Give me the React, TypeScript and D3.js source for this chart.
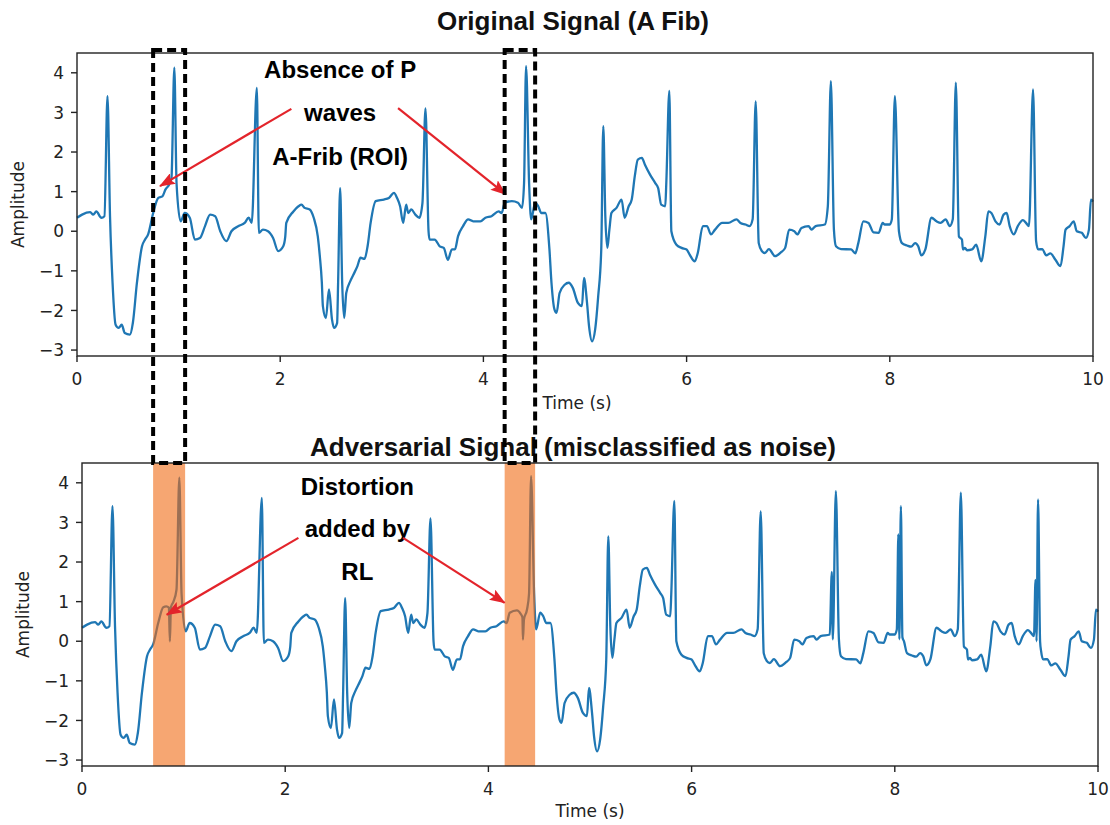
import React from 'react';
import * as d3 from 'd3';

// ECG trace (time in s, amplitude)
const originalSignal: [number, number][] = [
  [0.0, 0.34], [0.05, 0.42], [0.13, 0.48], [0.16, 0.42], [0.19, 0.5], [0.24, 0.34], [0.27, 0.38],
  [0.3, 3.41], [0.325, 0.38], [0.35, -1.3], [0.38, -2.36], [0.41, -2.44], [0.44, -2.36], [0.47, -2.57],
  [0.52, -2.61], [0.55, -2.31], [0.59, -1.3], [0.64, -0.38], [0.67, -0.21], [0.7, -0.08], [0.75, 0.46],
  [0.8, 0.84], [0.84, 0.88], [0.87, 1.05], [0.915, 1.22], [0.93, 1.35], [0.958, 4.13], [0.98, 1.2],
  [1.02, 0.25], [1.06, 0.46], [1.11, 0.34], [1.16, -0.21], [1.21, -0.17], [1.26, 0.13], [1.31, 0.42],
  [1.36, 0.38], [1.41, 0.0], [1.47, -0.25], [1.52, 0.0], [1.59, 0.13], [1.65, 0.21], [1.69, 0.34],
  [1.72, 0.21], [1.77, 3.62], [1.79, -0.04], [1.83, 0.04], [1.88, 0.0], [1.93, -0.17], [1.98, -0.5],
  [2.03, -0.38], [2.05, -0.13], [2.06, 0.21], [2.13, 0.5], [2.18, 0.63], [2.21, 0.67], [2.24, 0.59],
  [2.29, 0.55], [2.33, 0.34], [2.37, -0.13], [2.39, -0.63], [2.41, -1.3], [2.42, -1.89], [2.45, -2.19],
  [2.48, -1.47], [2.51, -2.23], [2.53, -2.44], [2.56, -2.32], [2.57, -1.3], [2.59, 1.09], [2.61, -1.3],
  [2.63, -2.19], [2.65, -1.56], [2.69, -1.26], [2.72, -1.1], [2.76, -0.88], [2.79, -0.67], [2.83, -0.7],
  [2.86, -0.38], [2.89, 0.21], [2.94, 0.76], [3.02, 0.8], [3.07, 0.84], [3.12, 0.97], [3.15, 0.84],
  [3.18, 0.63], [3.21, 0.21], [3.24, 0.67], [3.26, 0.46], [3.29, 0.55], [3.33, 0.42], [3.37, 0.34],
  [3.4, 0.71], [3.43, 3.1], [3.46, 0.0], [3.47, -0.21], [3.52, -0.21], [3.57, -0.38], [3.61, -0.42],
  [3.65, -0.72], [3.69, -0.46], [3.72, -0.46], [3.75, -0.13], [3.8, 0.13], [3.85, 0.3], [3.9, 0.25],
  [3.97, 0.25], [4.02, 0.34], [4.08, 0.38], [4.15, 0.5], [4.18, 0.46], [4.21, 0.72], [4.28, 0.76],
  [4.34, 0.72], [4.38, 0.59], [4.4, 1.2], [4.42, 4.17], [4.45, 1.2], [4.47, 0.3], [4.51, 0.72],
  [4.54, 0.63], [4.57, 0.46], [4.61, 0.46], [4.65, -0.46], [4.67, -1.3], [4.7, -1.98], [4.72, -2.06],
  [4.75, -1.56], [4.8, -1.35], [4.84, -1.3], [4.88, -1.43], [4.93, -1.81], [4.97, -1.89], [4.99, -1.18],
  [5.02, -1.81], [5.04, -2.4], [5.07, -2.78], [5.1, -2.48], [5.13, -1.64], [5.16, -0.46], [5.18, 2.65],
  [5.2, 0.38], [5.22, -0.42], [5.24, 0.04], [5.26, 0.46], [5.31, 0.59], [5.36, 0.8], [5.39, 0.34],
  [5.43, 0.63], [5.46, 0.8], [5.49, 1.39], [5.52, 1.81], [5.56, 1.85], [5.59, 1.68], [5.64, 1.43],
  [5.69, 1.22], [5.72, 1.09], [5.75, 0.67], [5.79, 0.63], [5.8, 1.2], [5.83, 3.54], [5.85, 0.0],
  [5.9, -0.34], [5.95, -0.42], [6.0, -0.46], [6.03, -0.59], [6.08, -0.76], [6.11, -0.55], [6.16, 0.13],
  [6.2, 0.13], [6.24, -0.08], [6.28, 0.04], [6.35, 0.21], [6.41, 0.21], [6.49, 0.3], [6.53, 0.21],
  [6.58, 0.17], [6.62, 0.13], [6.65, 0.3], [6.68, 3.28], [6.71, -0.3], [6.74, -0.5], [6.77, -0.55],
  [6.81, -0.45], [6.87, -0.63], [6.93, -0.53], [6.97, -0.42], [7.01, 0.04], [7.06, 0.0], [7.09, -0.08],
  [7.13, 0.08], [7.2, 0.13], [7.23, 0.04], [7.27, 0.13], [7.36, 0.17], [7.39, 0.63], [7.42, 3.79],
  [7.45, 0.04], [7.47, -0.38], [7.52, -0.45], [7.62, -0.46], [7.66, -0.56], [7.69, -0.3], [7.74, 0.25],
  [7.79, 0.21], [7.84, -0.03], [7.89, -0.04], [7.93, 0.21], [7.95, 0.17], [8.0, 0.17], [8.02, 0.3],
  [8.05, 3.41], [8.09, 0.0], [8.12, -0.3], [8.17, -0.36], [8.21, -0.39], [8.25, -0.3], [8.28, -0.38],
  [8.31, -0.61], [8.35, -0.46], [8.41, 0.34], [8.46, 0.25], [8.5, 0.21], [8.55, 0.3], [8.59, 0.13],
  [8.62, 0.3], [8.65, 3.75], [8.68, -0.13], [8.71, -0.21], [8.72, -0.46], [8.74, -0.42], [8.76, -0.48],
  [8.81, -0.46], [8.85, -0.34], [8.9, -0.76], [8.94, -0.13], [8.97, 0.5], [9.0, 0.46], [9.04, 0.25],
  [9.08, 0.17], [9.12, 0.42], [9.15, 0.46], [9.18, 0.13], [9.22, -0.08], [9.26, 0.13], [9.31, 0.28],
  [9.34, 0.21], [9.37, 0.13], [9.41, 3.58], [9.44, -0.25], [9.46, -0.46], [9.5, -0.45], [9.54, -0.61],
  [9.58, -0.56], [9.63, -0.72], [9.68, -0.88], [9.71, -0.38], [9.73, 0.04], [9.77, 0.13], [9.81, 0.25],
  [9.84, 0.0], [9.89, -0.04], [9.93, -0.17], [9.96, 0.04], [9.98, 0.8], [10.0, 0.75],
];

// pieces where the adversarial trace differs from the original
const distortionPatches: [number, number][][] = [
  [[0.8, 0.86], [0.83, 0.88], [0.855, 0.85], [0.865, 0.0], [0.875, 0.85], [0.9, 1.0], [0.93, 1.3]],
  [[4.28, 0.78], [4.32, 0.68], [4.335, 0.6], [4.34, 0.04], [4.35, 0.55], [4.38, 0.8], [4.4, 1.2]],
  [[7.36, 0.17], [7.38, 1.75], [7.39, 0.05], [7.42, 3.79], [7.45, 0.04]],
  [[8.02, 0.3], [8.035, 2.7], [8.045, 0.05], [8.06, 3.41], [8.075, 0.1], [8.09, 0.0]],
  [[9.37, 0.13], [9.385, 1.55], [9.395, 0.0], [9.41, 3.58], [9.43, 0.0], [9.44, -0.25]],
];

const roiWindows: [number, number][] = [[0.7, 1.015], [4.16, 4.46]];

const xTicks = [0, 2, 4, 6, 8, 10];
const yTicks = [-3, -2, -1, 0, 1, 2, 3, 4];

const topNotes = ['Absence of P', 'waves', 'A-Frib (ROI)'];
const bottomNotes = ['Distortion', 'added by', 'RL'];

const adversarialSignal: [number, number][] = (() => {
  const kept = originalSignal.filter(
    ([t]) => !distortionPatches.some(p => t >= p[0][0] && t <= p[p.length - 1][0])
  );
  return [...kept, ...distortionPatches.flat()].sort((a, b) => a[0] - b[0]);
})();

const topBox = { left: 77, top: 53, width: 1016, height: 303 };
const bottomBox = { left: 82, top: 463, width: 1016, height: 303 };
const yDomain: [number, number] = [-3.15, 4.5];

const tickFont = 'DejaVu Sans, sans-serif';
const boldFont = 'Liberation Sans, Arial, sans-serif';
const blue = '#1f77b4';
const red = '#e3242b';

type Box = typeof topBox;

function scalesFor(box: Box) {
  const x = d3.scaleLinear().domain([0, 10]).range([box.left, box.left + box.width]);
  const y = d3.scaleLinear().domain(yDomain).range([box.top + box.height, box.top]);
  return { x, y };
}

type Arrow = { from: [number, number]; to: [number, number] };

function Panel(props: {
  box: Box;
  data: [number, number][];
  title: string;
  titleY: number;
  xLabelX: number;
  xLabelY: number;
  ampX: number;
  notes: string[];
  noteAt: [number, number];
  noteStep: number;
  arrows: Arrow[];
  spans?: [number, number][];
}) {
  const { box, data, title, titleY, xLabelX, xLabelY, ampX, notes, noteAt, noteStep, arrows, spans } = props;
  const { x, y } = scalesFor(box);
  const line = d3
    .line<[number, number]>()
    .x(d => x(d[0]))
    .y(d => y(d[1]))
    .curve(d3.curveMonotoneX);
  const bottom = box.top + box.height;
  const fmt = d3.format('d');

  return (
    <g>
      <text x={573} y={titleY} textAnchor="middle" fontFamily={boldFont} fontWeight="bold" fontSize={26} fill="#111">
        {title}
      </text>
      <path d={line(data) || ''} fill="none" stroke={blue} strokeWidth={2.3} strokeLinejoin="round" />
      {spans &&
        spans.map(([a, b], i) => (
          <rect key={i} x={x(a)} y={box.top} width={x(b) - x(a)} height={box.height} fill="rgb(240,107,20)" fillOpacity={0.6} />
        ))}
      <rect x={box.left} y={box.top} width={box.width} height={box.height} fill="none" stroke="#222" strokeWidth={1.4} />
      {xTicks.map(t => (
        <g key={t} transform={`translate(${x(t)},${bottom})`}>
          <line y2={6} stroke="#222" strokeWidth={1.4} />
          <text y={29} textAnchor="middle" fontFamily={tickFont} fontSize={17} fill="#222">
            {fmt(t)}
          </text>
        </g>
      ))}
      {yTicks.map(t => (
        <g key={t} transform={`translate(${box.left},${y(t)})`}>
          <line x2={-6} stroke="#222" strokeWidth={1.4} />
          <text x={-13} dy="0.36em" textAnchor="end" fontFamily={tickFont} fontSize={17} fill="#222">
            {fmt(t)}
          </text>
        </g>
      ))}
      <text x={xLabelX} y={xLabelY} textAnchor="middle" fontFamily={tickFont} fontSize={17} fill="#222">
        Time (s)
      </text>
      <text
        transform={`translate(${ampX},${box.top + box.height / 2}) rotate(-90)`}
        textAnchor="middle"
        fontFamily={tickFont}
        fontSize={17}
        fill="#222"
      >
        Amplitude
      </text>
      {notes.map((n, i) => (
        <text
          key={n}
          x={x(noteAt[0])}
          y={y(noteAt[1]) + i * noteStep}
          textAnchor="middle"
          fontFamily={boldFont}
          fontWeight="bold"
          fontSize={24}
          fill="#000"
        >
          {n}
        </text>
      ))}
      {arrows.map((a, i) => (
        <line
          key={i}
          x1={x(a.from[0])}
          y1={y(a.from[1])}
          x2={x(a.to[0])}
          y2={y(a.to[1])}
          stroke={red}
          strokeWidth={2.2}
          markerEnd="url(#redHead)"
        />
      ))}
    </g>
  );
}

export default function App() {
  const bx = scalesFor(bottomBox).x;
  return (
    <svg width={1110} height={825} style={{ position: 'absolute', left: 0, top: 0, background: '#fff' }}>
      <defs>
        <marker id="redHead" markerUnits="userSpaceOnUse" markerWidth={16} markerHeight={12} refX={15} refY={6} orient="auto">
          <path d="M0,0 L16,6 L0,12 L3,6 z" fill={red} />
        </marker>
      </defs>
      <rect width={1110} height={825} fill="#fff" />
      <Panel
        box={topBox}
        data={originalSignal}
        title="Original Signal (A Fib)"
        titleY={30}
        xLabelX={577}
        xLabelY={409}
        ampX={24}
        notes={topNotes}
        noteAt={[2.59, 3.88]}
        noteStep={43.5}
        arrows={[
          { from: [2.11, 3.09], to: [0.817, 1.14] },
          { from: [3.16, 3.11], to: [4.22, 0.93] },
        ]}
      />
      <Panel
        box={bottomBox}
        data={adversarialSignal}
        title="Adversarial Signal (misclassified as noise)"
        titleY={456}
        xLabelX={590}
        xLabelY={817}
        ampX={29}
        notes={bottomNotes}
        noteAt={[2.71, 3.7]}
        noteStep={42.5}
        arrows={[
          { from: [2.13, 2.61], to: [0.834, 0.67] },
          { from: [3.16, 2.61], to: [4.16, 0.97] },
        ]}
        spans={roiWindows}
      />
      {roiWindows.map(([a, b], i) => (
        <rect
          key={i}
          x={bx(a)}
          y={topBox.top - 3}
          width={bx(b) - bx(a)}
          height={bottomBox.top - topBox.top + 3}
          fill="none"
          stroke="#000"
          strokeWidth={4}
          strokeDasharray="9 5"
        />
      ))}
    </svg>
  );
}
